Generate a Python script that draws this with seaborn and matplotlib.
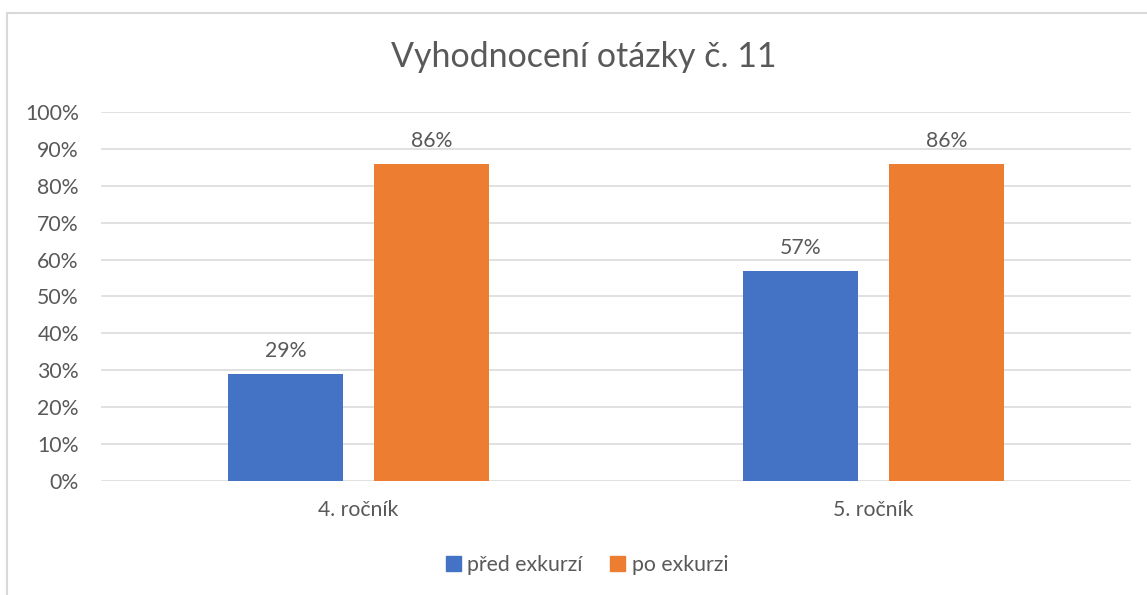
import pandas as pd
import numpy as np
import matplotlib
matplotlib.use("Agg")
import matplotlib.pyplot as plt
from matplotlib.lines import Line2D
from matplotlib.ticker import PercentFormatter
import seaborn as sns

# data
rocniky = ["4. ročník", "5. ročník"]
serie = ["před exkurzí", "po exkurzi"]
pred_exkurzi = [0.29, 0.57]
po_exkurzi = [0.86, 0.86]
y_ticks = [0, 0.1, 0.2, 0.3, 0.4, 0.5, 0.6, 0.7, 0.8, 0.9, 1.0]

df = pd.DataFrame({
    "rocnik": rocniky * 2,
    "serie": [serie[0]] * 2 + [serie[1]] * 2,
    "hodnota": pred_exkurzi + po_exkurzi,
})

sns.set_theme(style="white")
plt.rcParams["font.family"] = ["Lato", "DejaVu Sans"]
text_col = "#595959"
grid_col = "#d9d9d9"

fig = plt.figure(figsize=(11.47, 5.95), dpi=100)
ax = fig.add_axes([0.0881, 0.1916, 0.8979, 0.6202])

sns.barplot(data=df, x="rocnik", y="hodnota", hue="serie", hue_order=serie,
            order=rocniky, palette=["#4472C4", "#ED7D31"], width=0.567, gap=0.212,
            saturation=1, errorbar=None, ax=ax, legend=True, linewidth=0)

ax.set_ylim(0, 1)
ax.set_xlim(-0.5, 1.5)
ax.set_yticks(y_ticks)
ax.yaxis.set_major_formatter(PercentFormatter(1.0, decimals=0))
ax.grid(axis="y", color=grid_col, linewidth=1.1)
ax.set_axisbelow(True)
for s in ax.spines.values():
    s.set_visible(False)
ax.set_xlabel("")
ax.set_ylabel("")
ax.tick_params(axis="y", length=0, pad=16, labelsize=15.3, labelcolor=text_col)
ax.tick_params(axis="x", length=0, pad=14, labelsize=15.3, labelcolor=text_col)

for cont in ax.containers:
    ax.bar_label(cont, labels=[f"{v*100:.0f}%" for v in cont.datavalues],
                 padding=9, fontsize=15.3, color=text_col)

ax.get_legend().remove()
handles = [plt.Rectangle((0, 0), 1, 1, color=c) for c in ["#4472C4", "#ED7D31"]]
fig.legend(handles, serie, loc="center", bbox_to_anchor=(0.512, 0.05), ncol=2,
           frameon=False, fontsize=15.3, labelcolor=text_col, handlelength=0.7,
           handleheight=0.7, handletextpad=0.3, columnspacing=1.3)

fig.text(0.509, 0.904, "Vyhodnocení otázky č. 11", ha="center", va="center",
         fontsize=24.5, color=text_col)

# chart frame (only left and top edges fall inside the picture)
fig.add_artist(Line2D([0.0061, 0.0061], [0, 0.978], color=grid_col, lw=1.5, transform=fig.transFigure))
fig.add_artist(Line2D([0.0061, 1], [0.978, 0.978], color=grid_col, lw=1.5, transform=fig.transFigure))

fig.savefig("out.png", dpi=100)
